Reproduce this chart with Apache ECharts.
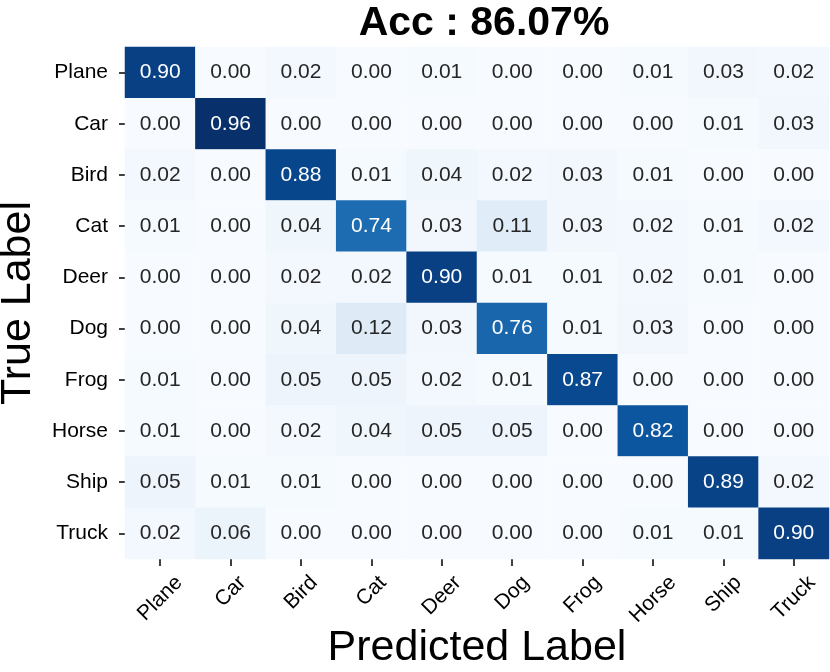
<!DOCTYPE html>
<html>
<head>
<meta charset="utf-8">
<script src="https://cdn.jsdelivr.net/npm/echarts@6/dist/echarts.min.js"></script>
<style>html,body{margin:0;padding:0;background:#fff;}#c{width:830px;height:672px;}</style>
</head>
<body>
<div id="c"></div>
<script>
const categories = ['Plane','Car','Bird','Cat','Deer','Dog','Frog','Horse','Ship','Truck'];
const rowPlane = [0.90,0.00,0.02,0.00,0.01,0.00,0.00,0.01,0.03,0.02];
const rowCar   = [0.00,0.96,0.00,0.00,0.00,0.00,0.00,0.00,0.01,0.03];
const rowBird  = [0.02,0.00,0.88,0.01,0.04,0.02,0.03,0.01,0.00,0.00];
const rowCat   = [0.01,0.00,0.04,0.74,0.03,0.11,0.03,0.02,0.01,0.02];
const rowDeer  = [0.00,0.00,0.02,0.02,0.90,0.01,0.01,0.02,0.01,0.00];
const rowDog   = [0.00,0.00,0.04,0.12,0.03,0.76,0.01,0.03,0.00,0.00];
const rowFrog  = [0.01,0.00,0.05,0.05,0.02,0.01,0.87,0.00,0.00,0.00];
const rowHorse = [0.01,0.00,0.02,0.04,0.05,0.05,0.00,0.82,0.00,0.00];
const rowShip  = [0.05,0.01,0.01,0.00,0.00,0.00,0.00,0.00,0.89,0.02];
const rowTruck = [0.02,0.06,0.00,0.00,0.00,0.00,0.00,0.01,0.01,0.90];
const titleText = 'Acc : 86.07%';

const rows = [rowPlane,rowCar,rowBird,rowCat,rowDeer,rowDog,rowFrog,rowHorse,rowShip,rowTruck];
const data = [];
rows.forEach((r, yi) => r.forEach((v, xi) => data.push([xi, yi, v])));
const vmax = Math.max(...data.map(d => d[2]));
const FONT = '"Liberation Sans", Arial, Helvetica, sans-serif';
const TICK_FS = 21;

// Emulate top-aligned, centre-aligned rotated tick labels: shift each label
// straight down by half its rotated extent.
const ctx = document.createElement('canvas').getContext('2d');
ctx.font = TICK_FS + 'px "Liberation Sans"';
const xRich = {};
categories.forEach(c => {
  const w = ctx.measureText(c).width;
  const p = (w + 24) / 2;
  xRich[c] = {fontFamily: FONT, fontSize: TICK_FS, color: '#000', padding: [p, p, 0, 0]};
});

const chart = echarts.init(document.getElementById('c'), null, {renderer: 'canvas'});
chart.setOption({
  backgroundColor: '#ffffff',
  animation: false,
  title: {
    text: titleText,
    left: 479, top: -2, textAlign: 'center',
    textStyle: {fontFamily: FONT, fontSize: 41, fontWeight: 'bold', color: '#000'}
  },
  grid: {left: 125, top: 47, width: 704, height: 512, containLabel: false, outerBoundsMode: 'none'},
  xAxis: {
    type: 'category', data: categories, position: 'bottom',
    name: 'Predicted Label', nameLocation: 'middle', nameGap: 68, nameMoveOverlap: false,
    nameTextStyle: {fontFamily: FONT, fontSize: 43, color: '#000'},
    axisLine: {show: false},
    axisTick: {show: true, alignWithLabel: true, length: 7, lineStyle: {color: '#000', width: 1.5}},
    axisLabel: {rotate: 45, align: 'center', verticalAlign: 'middle', margin: 12,
      fontFamily: FONT, fontSize: TICK_FS, color: '#000', interval: 0,
      formatter: v => '{' + v + '|' + v + '}', rich: xRich},
    splitLine: {show: false}
  },
  yAxis: {
    type: 'category', data: categories, inverse: true,
    name: 'True Label', nameLocation: 'middle', nameGap: 85, nameRotate: 90,
    nameTextStyle: {fontFamily: FONT, fontSize: 43, color: '#000'},
    axisLine: {show: false},
    axisTick: {show: true, alignWithLabel: true, length: 6, lineStyle: {color: '#000', width: 1.5}},
    axisLabel: {margin: 17, fontFamily: FONT, fontSize: TICK_FS, color: '#000', interval: 0},
    splitLine: {show: false}
  },
  visualMap: {
    show: false, type: 'continuous', min: 0, max: vmax, dimension: 2,
    inRange: {color: ['#f7fbff','#deebf7','#c6dbef','#9ecae1','#6baed6','#4292c6','#2171b5','#08519c','#08306b']}
  },
  series: [{
    type: 'heatmap',
    data: data.map(d => ({value: d, label: {color: d[2] / vmax > 0.5 ? '#ffffff' : '#262626'}})),
    itemStyle: {borderWidth: 0},
    label: {
      show: true, fontFamily: FONT, fontSize: 21,
      formatter: p => p.value[2].toFixed(2)
    },
    emphasis: {disabled: true}
  }]
});
</script>
</body>
</html>
